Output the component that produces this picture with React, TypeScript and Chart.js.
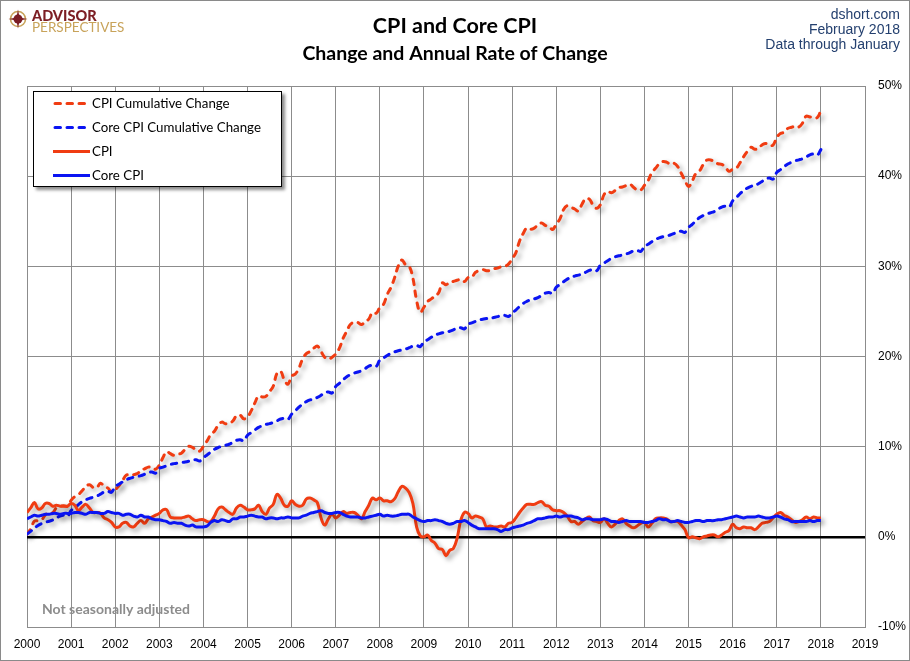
import React, { useEffect, useRef } from "react";
import { Chart, registerables } from "chart.js";

Chart.register(...registerables);

// Monthly data, January 2000 through January 2018
const START_YEAR = 2000;

const seriesLabels = [
  "CPI Cumulative Change",
  "Core CPI Cumulative Change",
  "CPI",
  "Core CPI",
];

// CPI cumulative change (%)
const cpiCumulative = [
  0.30, 0.89, 1.72, 1.78, 1.90, 2.44, 2.68, 2.68, 3.21, 3.39, 3.45, 3.39,
  4.04, 4.46, 4.69, 5.11, 5.59, 5.77, 5.47, 5.47, 5.95, 5.59, 5.41, 4.99,
  5.23, 5.65, 6.24, 6.84, 6.84, 6.90, 7.01, 7.37, 7.55, 7.73, 7.73, 7.49,
  7.96, 8.80, 9.45, 9.22, 9.04, 9.16, 9.28, 9.69, 10.05, 9.93, 9.63, 9.51,
  10.05, 10.64, 11.35, 11.71, 12.37, 12.72, 12.54, 12.60, 12.84, 13.43, 13.49, 13.08,
  13.31, 13.97, 14.85, 15.63, 15.52, 15.58, 16.11, 16.70, 18.12, 18.36, 17.41, 16.94,
  17.83, 18.06, 18.72, 19.73, 20.32, 20.56, 20.92, 21.15, 20.56, 19.91, 19.73, 19.91,
  20.27, 20.92, 22.01, 22.81, 23.56, 23.80, 23.77, 23.54, 23.88, 24.15, 24.88, 24.80,
  25.42, 25.79, 26.88, 27.64, 28.72, 30.02, 30.70, 30.18, 30.00, 28.68, 26.22, 24.91,
  25.46, 26.09, 26.39, 26.71, 27.07, 28.16, 27.96, 28.24, 28.32, 28.45, 28.54, 28.31,
  28.75, 28.78, 29.32, 29.54, 29.64, 29.52, 29.54, 29.72, 29.80, 29.96, 30.01, 30.24,
  30.85, 31.50, 32.79, 33.64, 34.27, 34.12, 34.24, 34.61, 34.81, 34.54, 34.42, 34.09,
  34.68, 35.27, 36.31, 36.72, 36.56, 36.36, 36.14, 36.89, 37.50, 37.45, 36.80, 36.43,
  36.83, 37.95, 38.31, 38.17, 38.41, 38.74, 38.80, 38.96, 39.12, 38.77, 38.48, 38.47,
  38.99, 39.51, 40.40, 40.87, 41.36, 41.62, 41.56, 41.33, 41.43, 41.08, 40.32, 39.53,
  38.86, 39.47, 40.30, 40.59, 41.30, 41.79, 41.80, 41.60, 41.38, 41.32, 41.02, 40.54,
  40.77, 40.89, 41.49, 42.17, 42.75, 43.21, 42.98, 43.11, 43.46, 43.63, 43.41, 43.46,
  44.29, 44.74, 44.86, 45.30, 45.42, 45.56, 45.46, 45.89, 46.66, 46.57, 46.57, 46.49,
  47.28,
];

// Core CPI cumulative change (%)
const coreCumulative = [
  0.30, 0.61, 0.95, 1.26, 1.47, 1.63, 1.73, 1.86, 2.08, 2.31, 2.39, 2.27,
  2.91, 3.23, 3.58, 3.90, 4.11, 4.27, 4.39, 4.52, 4.74, 4.98, 5.06, 4.94,
  5.59, 5.83, 6.09, 6.33, 6.49, 6.61, 6.69, 6.79, 6.95, 7.13, 7.19, 7.07,
  7.59, 7.73, 7.89, 8.03, 8.12, 8.19, 8.24, 8.30, 8.39, 8.51, 8.54, 8.41,
  8.78, 9.08, 9.40, 9.70, 9.90, 10.05, 10.15, 10.27, 10.47, 10.70, 10.77, 10.65,
  11.27, 11.56, 11.86, 12.14, 12.33, 12.47, 12.56, 12.68, 12.86, 13.07, 13.14, 13.02,
  13.61, 13.98, 14.38, 14.74, 15.00, 15.18, 15.30, 15.46, 15.70, 15.98, 16.07, 15.95,
  16.68, 17.03, 17.41, 17.76, 17.99, 18.16, 18.28, 18.43, 18.66, 18.93, 19.02, 18.90,
  19.60, 19.84, 20.11, 20.35, 20.51, 20.64, 20.72, 20.82, 20.98, 21.16, 21.22, 21.10,
  21.63, 21.86, 22.13, 22.36, 22.51, 22.63, 22.71, 22.80, 22.96, 23.13, 23.19, 23.07,
  23.58, 23.73, 23.89, 24.04, 24.13, 24.21, 24.26, 24.32, 24.42, 24.53, 24.56, 24.44,
  24.81, 25.15, 25.54, 25.88, 26.11, 26.28, 26.39, 26.54, 26.76, 27.02, 27.11, 26.99,
  27.68, 27.97, 28.29, 28.58, 28.78, 28.92, 29.02, 29.14, 29.34, 29.55, 29.63, 29.51,
  30.11, 30.36, 30.63, 30.88, 31.05, 31.17, 31.25, 31.36, 31.52, 31.71, 31.77, 31.65,
  32.20, 32.45, 32.73, 32.98, 33.15, 33.28, 33.36, 33.47, 33.63, 33.82, 33.89, 33.77,
  34.31, 34.66, 35.05, 35.41, 35.64, 35.82, 35.94, 36.08, 36.32, 36.58, 36.67, 36.55,
  37.26, 37.64, 38.05, 38.43, 38.68, 38.87, 38.99, 39.16, 39.42, 39.70, 39.79, 39.67,
  40.42, 40.72, 41.05, 41.35, 41.55, 41.71, 41.81, 41.93, 42.13, 42.37, 42.45, 42.33,
  42.95,
];

// CPI year-over-year change (%)
const cpiYoY = [
  2.7, 3.2, 3.8, 3.1, 3.2, 3.7, 3.7, 3.4, 3.5, 3.4, 3.4, 3.4,
  3.7, 3.5, 2.9, 3.3, 3.6, 3.2, 2.7, 2.7, 2.6, 2.1, 1.9, 1.6,
  1.1, 1.1, 1.5, 1.6, 1.2, 1.1, 1.5, 1.8, 1.5, 2.0, 2.2, 2.4,
  2.6, 3.0, 3.0, 2.2, 2.1, 2.1, 2.1, 2.2, 2.3, 2.0, 1.8, 1.9,
  1.9, 1.7, 1.7, 2.3, 3.1, 3.3, 3.0, 2.7, 2.5, 3.2, 3.5, 3.3,
  3.0, 3.0, 3.1, 3.5, 2.8, 2.5, 3.2, 3.6, 4.7, 4.3, 3.5, 3.4,
  4.0, 3.6, 3.4, 3.5, 4.2, 4.3, 4.1, 3.8, 2.1, 1.3, 2.0, 2.5,
  2.1, 2.4, 2.8, 2.6, 2.7, 2.7, 2.4, 2.0, 2.8, 3.5, 4.3, 4.1,
  4.3, 4.0, 4.0, 3.9, 4.2, 5.0, 5.6, 5.4, 4.9, 3.7, 1.1, 0.1,
  0.0, 0.2, -0.4, -0.7, -1.3, -1.4, -2.1, -1.5, -1.3, -0.2, 1.8, 2.7,
  2.6, 2.1, 2.3, 2.2, 2.0, 1.1, 1.2, 1.1, 1.1, 1.2, 1.1, 1.5,
  1.6, 2.1, 2.7, 3.2, 3.6, 3.6, 3.6, 3.8, 3.9, 3.5, 3.4, 3.0,
  2.9, 2.9, 2.7, 2.3, 1.7, 1.7, 1.4, 1.7, 2.0, 2.2, 1.8, 1.7,
  1.6, 2.0, 1.5, 1.1, 1.4, 1.8, 2.0, 1.5, 1.2, 1.0, 1.2, 1.5,
  1.6, 1.1, 1.5, 2.0, 2.1, 2.1, 2.0, 1.7, 1.7, 1.7, 1.3, 0.8,
  -0.1, 0.0, -0.1, -0.2, 0.0, 0.1, 0.2, 0.2, 0.0, 0.2, 0.5, 0.7,
  1.4, 1.0, 0.9, 1.1, 1.0, 1.0, 0.8, 1.1, 1.5, 1.6, 1.7, 2.1,
  2.5, 2.7, 2.4, 2.2, 1.9, 1.6, 1.7, 1.9, 2.2, 2.0, 2.2, 2.1,
  2.1,
];

// Core CPI year-over-year change (%)
const coreYoY = [
  2.0, 2.2, 2.4, 2.3, 2.4, 2.5, 2.5, 2.6, 2.6, 2.5, 2.6, 2.6,
  2.6, 2.7, 2.7, 2.6, 2.5, 2.7, 2.7, 2.7, 2.6, 2.6, 2.8, 2.7,
  2.6, 2.6, 2.4, 2.5, 2.5, 2.3, 2.2, 2.4, 2.2, 2.2, 2.0, 1.9,
  1.9, 1.8, 1.7, 1.5, 1.6, 1.5, 1.5, 1.3, 1.2, 1.3, 1.1, 1.1,
  1.1, 1.2, 1.6, 1.8, 1.7, 1.9, 1.8, 1.7, 2.0, 2.0, 2.2, 2.2,
  2.3, 2.4, 2.3, 2.2, 2.2, 2.0, 2.1, 2.1, 2.0, 2.1, 2.1, 2.2,
  2.1, 2.1, 2.1, 2.3, 2.4, 2.6, 2.7, 2.8, 2.9, 2.7, 2.6, 2.6,
  2.7, 2.7, 2.5, 2.3, 2.2, 2.2, 2.2, 2.1, 2.1, 2.2, 2.3, 2.4,
  2.5, 2.3, 2.4, 2.3, 2.3, 2.4, 2.5, 2.5, 2.5, 2.2, 2.0, 1.8,
  1.7, 1.8, 1.8, 1.9, 1.8, 1.7, 1.5, 1.4, 1.5, 1.7, 1.7, 1.8,
  1.6, 1.3, 1.1, 0.9, 0.9, 0.9, 0.9, 0.9, 0.8, 0.6, 0.8, 0.8,
  1.0, 1.1, 1.2, 1.3, 1.5, 1.6, 1.8, 2.0, 2.0, 2.1, 2.2, 2.2,
  2.3, 2.2, 2.3, 2.3, 2.3, 2.2, 2.1, 1.9, 2.0, 2.0, 1.9, 1.9,
  1.9, 2.0, 1.9, 1.7, 1.7, 1.6, 1.7, 1.8, 1.7, 1.7, 1.7, 1.7,
  1.6, 1.6, 1.7, 1.8, 2.0, 1.9, 1.9, 1.7, 1.7, 1.8, 1.7, 1.6,
  1.6, 1.7, 1.8, 1.8, 1.7, 1.8, 1.8, 1.8, 1.9, 1.9, 2.0, 2.1,
  2.2, 2.3, 2.2, 2.1, 2.2, 2.2, 2.2, 2.3, 2.2, 2.1, 2.1, 2.2,
  2.3, 2.2, 2.0, 1.9, 1.7, 1.7, 1.7, 1.7, 1.7, 1.8, 1.7, 1.8,
  1.8,
];

const X_MIN = 2000;
const X_MAX = 2019;
const Y_MIN = -10;
const Y_MAX = 50;
const Y_STEP = 10;

const RED = "#F03C12";
const BLUE = "#0A14F2";
const GRID = "#8C8C8C";
const DASH = [5.5, 6.5];

const toPoints = (arr: number[]) =>
  arr.map((y, i) => ({ x: START_YEAR + i / 12, y }));

const shadowPlugin = {
  id: "lineShadow",
  beforeDatasetDraw(chart: any) {
    const ctx = chart.ctx;
    ctx.save();
    ctx.shadowColor = "rgba(0,0,0,0.36)";
    ctx.shadowBlur = 5;
    ctx.shadowOffsetX = 3;
    ctx.shadowOffsetY = 3;
  },
  afterDatasetDraw(chart: any) {
    chart.ctx.restore();
  },
};

const decorPlugin = {
  id: "decor",
  beforeDraw(chart: any) {
    const ctx = chart.ctx;
    ctx.save();
    ctx.fillStyle = "#ffffff";
    ctx.fillRect(0, 0, chart.width, chart.height);
    ctx.restore();
  },
  afterDraw(chart: any) {
    const ctx: CanvasRenderingContext2D = chart.ctx;
    const W = chart.width;
    const H = chart.height;
    ctx.save();

    // outer border
    ctx.strokeStyle = "#8a8a8a";
    ctx.lineWidth = 1;
    ctx.strokeRect(0.5, 0.5, W - 1, H - 1);

    // logo
    const cx = 18, cy = 19;
    const darkRed = "#7C1E24";
    const gold = "#C8A35A";
    ctx.beginPath();
    ctx.arc(cx, cy, 7.5, 0, Math.PI * 2);
    ctx.strokeStyle = gold;
    ctx.lineWidth = 1.6;
    ctx.stroke();
    ctx.beginPath();
    ctx.arc(cx, cy, 4.5, 0, Math.PI * 2);
    ctx.fillStyle = darkRed;
    ctx.fill();
    ctx.beginPath();
    const spikes = 4;
    for (let i = 0; i < spikes * 2; i++) {
      const ang = (Math.PI / spikes) * i - Math.PI / 2;
      const r = i % 2 === 0 ? 9.5 : 2.2;
      const px = cx + Math.cos(ang) * r;
      const py = cy + Math.sin(ang) * r;
      if (i === 0) ctx.moveTo(px, py);
      else ctx.lineTo(px, py);
    }
    ctx.closePath();
    ctx.fillStyle = darkRed;
    ctx.fill();

    ctx.textAlign = "left";
    ctx.textBaseline = "alphabetic";
    ctx.fillStyle = darkRed;
    ctx.font = "900 14.5px Lato";
    ctx.fillText("ADVISOR", 32, 21);
    ctx.fillStyle = gold;
    ctx.font = "13.5px Lato";
    ctx.fillText("PERSPECTIVES", 32, 32);

    // titles
    ctx.fillStyle = "#000000";
    ctx.textAlign = "center";
    ctx.font = "bold 21.5px Lato";
    ctx.fillText("CPI and Core CPI", 455, 33);
    ctx.font = "bold 19.5px Lato";
    ctx.fillText("Change and Annual Rate of Change", 455, 60);

    // top-right notes
    ctx.textAlign = "right";
    ctx.fillStyle = "#24406F";
    ctx.font = "14px 'Liberation Sans', Arial, sans-serif";
    ctx.fillText("dshort.com", 900, 18.5);
    ctx.fillText("February 2018", 900, 33.5);
    ctx.fillText("Data through January", 900, 48.5);

    // note
    ctx.textAlign = "left";
    ctx.fillStyle = "#8C8C8C";
    ctx.font = "bold 14px Lato";
    ctx.fillText("Not seasonally adjusted", 42, 614);

    // legend
    const lx = 33, ly = 91, lw = 249, lh = 96;
    ctx.save();
    ctx.shadowColor = "rgba(0,0,0,0.45)";
    ctx.shadowBlur = 3;
    ctx.shadowOffsetX = 3;
    ctx.shadowOffsetY = 3;
    ctx.fillStyle = "#ffffff";
    ctx.fillRect(lx, ly, lw, lh);
    ctx.restore();
    ctx.strokeStyle = "#000000";
    ctx.lineWidth = 1;
    ctx.strokeRect(lx + 0.5, ly + 0.5, lw - 1, lh - 1);

    const colors = [RED, BLUE, RED, BLUE];
    const dashed = [true, true, false, false];
    seriesLabels.forEach((label, i) => {
      const yy = 103.5 + 24 * i;
      ctx.beginPath();
      ctx.strokeStyle = colors[i];
      ctx.lineWidth = 3;
      if (dashed[i]) {
        ctx.setLineDash(DASH);
        ctx.lineCap = "round";
        ctx.moveTo(55, yy);
        ctx.lineTo(88, yy);
      } else {
        ctx.setLineDash([]);
        ctx.lineCap = "butt";
        ctx.moveTo(53, yy);
        ctx.lineTo(90, yy);
      }
      ctx.stroke();
      ctx.setLineDash([]);
      ctx.fillStyle = "#000000";
      ctx.font = "13.3px Lato";
      ctx.textAlign = "left";
      ctx.textBaseline = "middle";
      ctx.fillText(label, 92, yy);
    });

    ctx.restore();
  },
};

export default function App() {
  const canvasRef = useRef<HTMLCanvasElement | null>(null);

  useEffect(() => {
    document.body.style.margin = "0";
    const canvas = canvasRef.current;
    if (!canvas) return;

    const chart = new Chart(canvas, {
      type: "line",
      data: {
        datasets: [
          {
            label: seriesLabels[0],
            data: toPoints(cpiCumulative),
            borderColor: RED,
            borderWidth: 3,
            borderDash: DASH,
            borderCapStyle: "round",
            pointRadius: 0,
            tension: 0.4,
            fill: false,
            order: 4,
          },
          {
            label: seriesLabels[1],
            data: toPoints(coreCumulative),
            borderColor: BLUE,
            borderWidth: 3,
            borderDash: DASH,
            borderCapStyle: "round",
            pointRadius: 0,
            tension: 0.4,
            fill: false,
            order: 3,
          },
          {
            label: seriesLabels[2],
            data: toPoints(cpiYoY),
            borderColor: RED,
            borderWidth: 3,
            pointRadius: 0,
            tension: 0.4,
            fill: false,
            order: 2,
          },
          {
            label: seriesLabels[3],
            data: toPoints(coreYoY),
            borderColor: BLUE,
            borderWidth: 3,
            pointRadius: 0,
            tension: 0.4,
            fill: false,
            order: 1,
          },
        ],
      },
      options: {
        animation: false,
        responsive: false,
        maintainAspectRatio: false,
        events: [],
        layout: { padding: { top: 86, left: 27, right: 0, bottom: 0 } },
        plugins: {
          legend: { display: false },
          title: { display: false },
          tooltip: { enabled: false },
        },
        scales: {
          x: {
            type: "linear",
            min: X_MIN,
            max: X_MAX,
            afterFit(scale: any) {
              scale.height = 34;
            },
            ticks: {
              stepSize: 1,
              autoSkip: false,
              maxRotation: 0,
              padding: 10,
              color: "#000000",
              font: { family: "'Liberation Sans', Arial, sans-serif", size: 12 },
              callback: (v: any) => String(v),
            },
            grid: { color: GRID, lineWidth: 1, drawTicks: false },
            border: { display: true, color: GRID, width: 1 },
          },
          y: {
            type: "linear",
            position: "right",
            min: Y_MIN,
            max: Y_MAX,
            afterFit(scale: any) {
              scale.width = 45;
            },
            ticks: {
              stepSize: Y_STEP,
              padding: 13,
              color: "#000000",
              font: { family: "'Liberation Sans', Arial, sans-serif", size: 12 },
              callback: (v: any) => `${v}%`,
            },
            grid: {
              drawTicks: false,
              color: (c: any) => (c.tick && c.tick.value === 0 ? "#000000" : GRID),
              lineWidth: (c: any) => (c.tick && c.tick.value === 0 ? 2.6 : 1),
            },
            border: { display: true, color: GRID, width: 1 },
          },
        },
      },
      plugins: [shadowPlugin, decorPlugin],
    });

    return () => {
      chart.destroy();
    };
  }, []);

  return (
    <div style={{ width: 910, height: 661, position: "relative" }}>
      <canvas
        ref={canvasRef}
        width={910}
        height={661}
        style={{ display: "block", width: 910, height: 661 }}
      />
    </div>
  );
}
